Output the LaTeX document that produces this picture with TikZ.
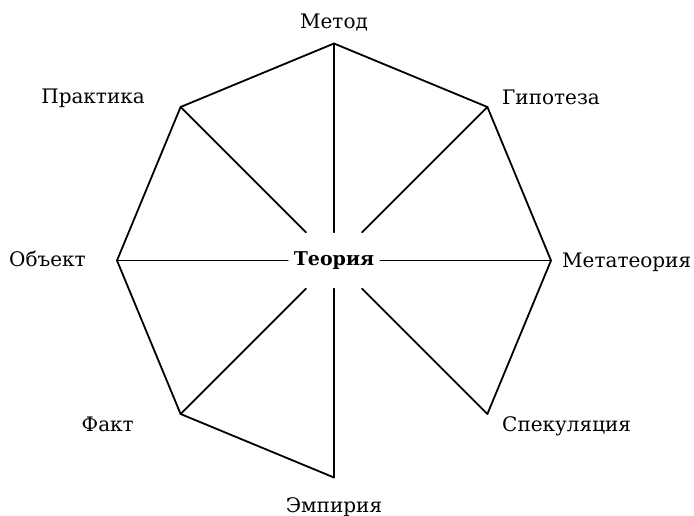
\documentclass[tikz,border=0pt]{standalone}
\usepackage{fontspec}
\setmainfont{DejaVu Serif}
\begin{document}
\begin{tikzpicture}[x=1pt,y=-1pt,
  edge/.style={line width=1.8pt, line join=miter, line cap=round},
  lbl/.style={font=\fontsize{20}{24}\selectfont, inner sep=0pt},
  core/.style={font=\fontsize{19}{22}\selectfont\bfseries, minimum width=92pt, minimum height=56pt, inner sep=0pt}]
\useasboundingbox (0,0) rectangle (694,516);
% vertices of the octagon
\coordinate (vT)  at (334,43.5);
\coordinate (vUR) at (487.4,107);
\coordinate (vR)  at (551,260.5);
\coordinate (vLR) at (487.4,414);
\coordinate (vB)  at (334,477.5);
\coordinate (vLL) at (180.6,414);
\coordinate (vL)  at (117,260.5);
\coordinate (vUL) at (180.6,107);
% centre
\node[core] (th) at (334,260.5) {Теория};
% outline (no edge between Спекуляция and Эмпирия)
\draw[edge] (vLR) -- (vR) -- (vUR) -- (vT) -- (vUL) -- (vL) -- (vLL) -- (vB);
% spokes
\foreach \v in {vT,vUR,vR,vLR,vB,vLL,vL,vUL}
  \draw[edge] (\v) -- (th);
% labels
\node[lbl, anchor=base] (lT) at (334,29) {Метод};
\node[lbl, anchor=base west] (lUR) at (502,105) {Гипотеза};
\node[lbl, anchor=base west] (lR) at (562,267) {Метатеория};
\node[lbl, anchor=base west] (lLR) at (502,431) {Спекуляция};
\node[lbl, anchor=base] (lB) at (334,512) {Эмпирия};
\node[lbl, anchor=base east] (lLL) at (134,431) {Факт};
\node[lbl, anchor=base east] (lL) at (86,266) {Объект};
\node[lbl, anchor=base east] (lUL) at (145,104) {Практика};
\end{tikzpicture}
\end{document}
